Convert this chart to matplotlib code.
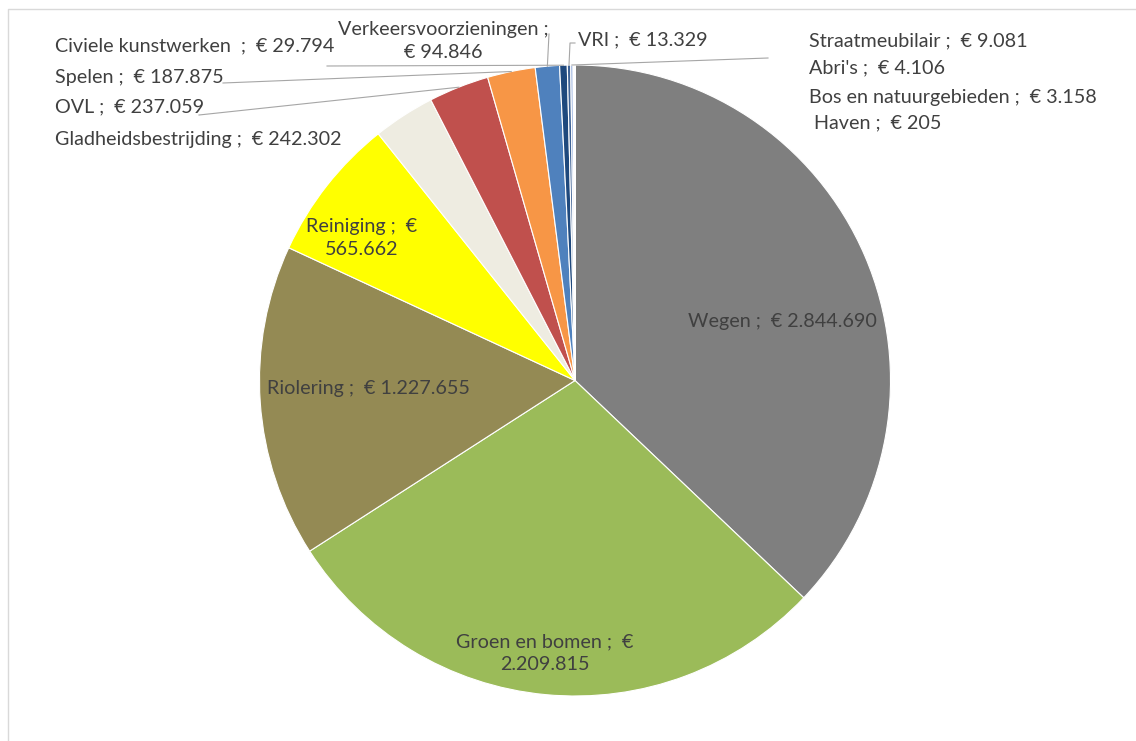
import numpy as np
import matplotlib
matplotlib.use('Agg')
import matplotlib.pyplot as plt
from matplotlib.lines import Line2D

plt.rcParams['font.family'] = ['Lato', 'DejaVu Sans']

categories = ['Wegen', 'Groen en bomen', 'Riolering', 'Reiniging', 'Gladheidsbestrijding',
              'OVL', 'Spelen', 'Verkeersvoorzieningen', 'Civiele kunstwerken', 'VRI',
              'Straatmeubilair', "Abri's", 'Bos en natuurgebieden', 'Haven']
values = [2844690, 2209815, 1227655, 565662, 242302, 237059, 187875, 94846,
          29794, 13329, 9081, 4106, 3158, 205]
colors = ['#7F7F7F', '#9BBB59', '#948A54', '#FFFF00', '#EEECE1', '#C0504D', '#F79646',
          '#4F81BD', '#1F497D', '#3F6396', '#8EA9DB', '#8064A2', '#B7C9E2', '#D9D9D9']

W, H = 1136, 741
cx, cy, R = 575, 380.5, 315.5

def eur(v):
    return '€ ' + f'{v:,}'.replace(',', '.')

labels = {c: f'{c} ;  {eur(v)}' for c, v in zip(categories, values)}
labels['Groen en bomen'] = 'Groen en bomen ;  €\n' + f'{values[1]:,}'.replace(',', '.')
labels['Reiniging'] = 'Reiniging ;  €\n' + f'{values[3]:,}'.replace(',', '.')
labels['Verkeersvoorzieningen'] = 'Verkeersvoorzieningen ;\n' + eur(values[7])
labels['Civiele kunstwerken'] = 'Civiele kunstwerken  ;  ' + eur(values[8])
labels['Haven'] = ' ' + labels['Haven']

# label placement in pixels: (x, y, ha)
inside = {'Wegen': (782, 322), 'Groen en bomen': (545, 653),
          'Riolering': (368, 389), 'Reiniging': (362, 238)}
outside = {'Civiele kunstwerken': (55, 46, 'left'), 'Spelen': (55, 77, 'left'),
           'OVL': (55, 107, 'left'), 'Gladheidsbestrijding': (55, 140, 'left'),
           'Verkeersvoorzieningen': (443, 41, 'center'), 'VRI': (578, 40, 'left'),
           'Straatmeubilair': (809, 41, 'left'), "Abri's": (809, 68, 'left'),
           'Bos en natuurgebieden': (809, 97, 'left'), 'Haven': (809, 123, 'left')}
leaders = {'Civiele kunstwerken': [(327, 66)], 'Spelen': [(223, 83)], 'OVL': [(199, 115)],
           'Verkeersvoorzieningen': [(549, 34)], 'VRI': [(575, 43), (570, 43)],
           'Straatmeubilair': [(768, 58)]}

fig = plt.figure(figsize=(W / 100, H / 100), dpi=100)
ax = fig.add_axes([(cx - R) / W, (H - cy - R) / H, 2 * R / W, 2 * R / H])
wedges, _ = ax.pie(values, colors=colors, startangle=90, counterclock=False, radius=1,
                   wedgeprops=dict(edgecolor='white', linewidth=0.8))
ax.set_xlim(-1, 1)
ax.set_ylim(-1, 1)
ax.set_aspect('equal')

def fig_xy(px, py):
    return px / W, 1 - py / H

tc = '#404040'
fs = 14.2
for name, (px, py) in inside.items():
    fig.text(*fig_xy(px, py), labels[name], ha='center', va='center', fontsize=fs,
             color=tc, linespacing=1.4)
for name, (px, py, ha) in outside.items():
    fig.text(*fig_xy(px, py), labels[name], ha=ha, va='center', fontsize=fs,
             color=tc, linespacing=1.4)

# leader lines: from label side to the middle of the wedge's outer edge
for name, pts in leaders.items():
    w = wedges[categories.index(name)]
    mid = np.deg2rad((w.theta1 + w.theta2) / 2)
    end = ax.transData.transform((np.cos(mid), np.sin(mid)))
    end = fig.transFigure.inverted().transform(end)
    xs = [fig_xy(*p)[0] for p in pts] + [end[0]]
    ys = [fig_xy(*p)[1] for p in pts] + [end[1]]
    fig.add_artist(Line2D(xs, ys, color='#A6A6A6', lw=0.8, transform=fig.transFigure))

# chart area frame
fig.add_artist(Line2D([8 / W, 8 / W, 1], [0, 1 - 9 / H, 1 - 9 / H], color='#D9D9D9',
                      lw=1, transform=fig.transFigure))

fig.savefig('out.png', dpi=100)
